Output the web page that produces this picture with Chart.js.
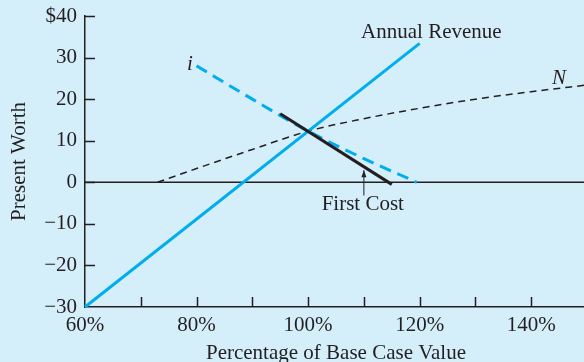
<!DOCTYPE html>
<html lang="en">
<head>
<meta charset="UTF-8">
<title>Sensitivity of Present Worth</title>
<style>
  html, body {
    margin: 0;
    padding: 0;
    overflow: hidden;
    background: rgb(212, 238, 250);
  }
  #wrap {
    width: 590px;
    height: 362px;
  }
</style>
<script src="https://cdn.jsdelivr.net/npm/chart.js"></script>
</head>
<body>
<div id="wrap"><canvas id="chart" width="590" height="362"></canvas></div>
<script>
// percentage of base case value (x) and present worth in $ (y) for each curve
const revenuePct = [60, 120];
const revenuePW = [-30, 33.4];

const ratePct = [80, 90, 100, 110, 119.5];
const ratePW = [28, 20.0, 12.3, 5.7, 0];

const costPct = [95, 115];
const costPW = [16.5, -0.5];

const lifePct = [73, 80, 90, 100, 110, 120, 130, 140, 150];
const lifePW = [0, 3.3, 7.9, 12.3, 15.3, 17.8, 20.0, 21.8, 23.4];

const xLabels = { 60: '60%', 80: '80%', 100: '100%', 120: '120%', 140: '140%' };
const yLabels = { 40: '$40', 30: '30', 20: '20', 10: '10', 0: '0', '-10': '\u221210', '-20': '\u221220', '-30': '\u221230' };

const ink = '#231f20';
const cyan = 'rgb(0, 174, 239)';
const serif = 'Liberation Serif';

function pts(xs, ys) {
  return xs.map((x, i) => ({ x: x, y: ys[i] }));
}

// inward tick marks, curve names and the arrow under "First Cost"
const extras = {
  id: 'extras',
  afterDatasetsDraw(chart) {
    const { ctx, chartArea: a, scales: { x, y } } = chart;
    ctx.save();
    ctx.strokeStyle = ink;
    ctx.lineWidth = 1.5;
    ctx.beginPath();
    x.ticks.forEach(t => {
      if (t.value <= 60) return;
      const px = Math.round(x.getPixelForValue(t.value)) + 0.5;
      ctx.moveTo(px, a.bottom);
      ctx.lineTo(px, a.bottom - 10);
    });
    y.ticks.forEach(t => {
      if (t.value <= -30) return;
      const py = Math.round(y.getPixelForValue(t.value)) + 0.5;
      ctx.moveTo(a.left, py);
      ctx.lineTo(a.left + 10, py);
    });
    ctx.stroke();

    // arrow from the label up to the first cost line
    const ax = x.getPixelForValue(110);
    const y0 = y.getPixelForValue(-3.2);
    const y1 = y.getPixelForValue(2.9);
    ctx.lineWidth = 1;
    ctx.beginPath();
    ctx.moveTo(ax, y0);
    ctx.lineTo(ax, y1);
    ctx.stroke();
    ctx.fillStyle = ink;
    ctx.beginPath();
    ctx.moveTo(ax, y1);
    ctx.lineTo(ax - 2.5, y1 + 7);
    ctx.lineTo(ax + 2.5, y1 + 7);
    ctx.closePath();
    ctx.fill();

    ctx.fillStyle = ink;
    ctx.textBaseline = 'alphabetic';
    ctx.font = '21px "' + serif + '"';
    ctx.textAlign = 'left';
    ctx.fillText('Annual Revenue', x.getPixelForValue(109.5), y.getPixelForValue(34.6));
    ctx.textAlign = 'center';
    ctx.fillText('First Cost', x.getPixelForValue(109.8), y.getPixelForValue(-6.6));
    ctx.font = 'italic 21px "' + serif + '"';
    ctx.fillText('i', x.getPixelForValue(78.8), y.getPixelForValue(26.9));
    ctx.fillText('N', x.getPixelForValue(145), y.getPixelForValue(23.6));
    ctx.restore();
  }
};

const ctx = document.getElementById('chart').getContext('2d');
new Chart(ctx, {
  type: 'scatter',
  data: {
    datasets: [
      {
        label: 'First Cost',
        data: pts(costPct, costPW),
        borderColor: ink,
        borderWidth: 3,
        order: 0
      },
      {
        label: 'Annual Revenue',
        data: pts(revenuePct, revenuePW),
        borderColor: cyan,
        borderWidth: 3,
        order: 1
      },
      {
        label: 'i',
        data: pts(ratePct, ratePW),
        borderColor: cyan,
        borderWidth: 3,
        borderDash: [12, 7],
        cubicInterpolationMode: 'monotone',
        order: 2
      },
      {
        label: 'N',
        data: pts(lifePct, lifePW),
        borderColor: ink,
        borderWidth: 1.5,
        borderDash: [7, 5],
        cubicInterpolationMode: 'monotone',
        order: 3
      },
      {
        label: 'zero',
        data: pts([60, 150], [0, 0]),
        borderColor: ink,
        borderWidth: 1.5,
        order: 4
      }
    ]
  },
  options: {
    responsive: false,
    animation: false,
    showLine: true,
    pointRadius: 0,
    pointHoverRadius: 0,
    clip: false,
    layout: { padding: { left: 0, top: 16, right: 3, bottom: 0 } },
    plugins: {
      legend: { display: false },
      tooltip: { enabled: false }
    },
    scales: {
      x: {
        type: 'linear',
        min: 60,
        max: 150,
        afterFit: s => { s.height = 55; s.paddingLeft = 0; s.paddingRight = 0; },
        grid: { display: false, drawTicks: false },
        border: { display: true, color: ink, width: 1.5 },
        ticks: {
          stepSize: 10,
          padding: 6,
          maxRotation: 0,
          autoSkip: false,
          color: ink,
          font: { family: serif, size: 21 },
          callback: v => xLabels[v] || ''
        },
        title: {
          display: true,
          text: 'Percentage of Base Case Value',
          color: ink,
          font: { family: serif, size: 21, lineHeight: 0.8 },
          padding: 0
        }
      },
      y: {
        min: -30,
        max: 40,
        afterFit: s => { s.width = 85; s.paddingTop = 0; s.paddingBottom = 0; },
        grid: { display: false, drawTicks: false },
        border: { display: true, color: ink, width: 1.5 },
        ticks: {
          stepSize: 10,
          padding: 8,
          color: ink,
          font: { family: serif, size: 21 },
          callback: v => yLabels[v] || ''
        },
        title: {
          display: true,
          text: 'Present Worth',
          color: ink,
          font: { family: serif, size: 21, lineHeight: 1 },
          padding: { top: 9, bottom: 0 }
        }
      }
    }
  },
  plugins: [extras]
});
</script>
</body>
</html>
